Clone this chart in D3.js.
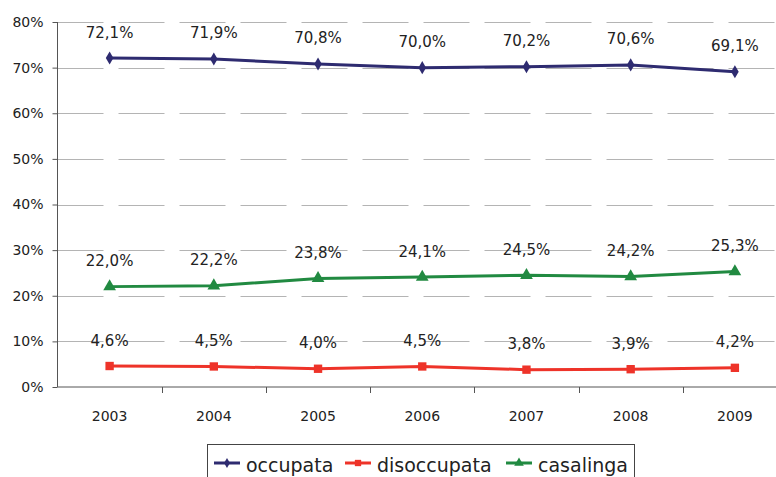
<!DOCTYPE html>
<html>
<head>
<meta charset="utf-8">
<script src="https://cdn.jsdelivr.net/npm/d3@7"></script>
<style>
  body { margin: 0; background: #fff; }
  svg { display: block; }
</style>
</head>
<body>
<div id="chart"></div>
<script>
// data
var years = ["2003", "2004", "2005", "2006", "2007", "2008", "2009"];
var occupata    = [72.1, 71.9, 70.8, 70.0, 70.2, 70.6, 69.1];
var disoccupata = [4.6, 4.5, 4.0, 4.5, 3.8, 3.9, 4.2];
var casalinga   = [22.0, 22.2, 23.8, 24.1, 24.5, 24.2, 25.3];
var yTicks = [0, 10, 20, 30, 40, 50, 60, 70, 80];

var series = [
  {name: "occupata", values: occupata, color: "#2e2b70", symbol: d3.symbolDiamond},
  {name: "disoccupata", values: disoccupata, color: "#ee3329", symbol: d3.symbolSquare},
  {name: "casalinga", values: casalinga, color: "#218a41", symbol: d3.symbolTriangle}
];

var W = 776, H = 477;
var plot = {left: 57.5, top: 22, bottom: 387, right: 787};

var svg = d3.select("#chart")
  .append("svg")
  .attr("width", W)
  .attr("height", H);

var x = d3.scaleBand()
  .domain(years)
  .range([plot.left, plot.right])
  .paddingInner(0);

var y = d3.scaleLinear()
  .domain([0, 80])
  .range([plot.bottom, plot.top]);

// gridlines (long dashes)
svg.append("g")
  .selectAll("line")
  .data(yTicks.filter(function(d) { return d > 0; }))
  .enter().append("line")
    .attr("x1", plot.left)
    .attr("x2", W)
    .attr("y1", function(d) { return Math.round(y(d)) + 0.5; })
    .attr("y2", function(d) { return Math.round(y(d)) + 0.5; })
    .style("stroke", "#b4b4b4")
    .style("stroke-width", 1)
    .style("stroke-dasharray", "46,15");

// y axis
var yAxis = svg.append("g")
  .attr("transform", "translate(" + plot.left + ",0)")
  .call(d3.axisLeft(y)
    .tickValues(yTicks)
    .tickSize(5)
    .tickPadding(9)
    .tickFormat(function(d) { return d + "%"; }));
yAxis.select(".domain").attr("d", "M0," + plot.top + "V" + plot.bottom).style("stroke", "#555");
yAxis.selectAll(".tick line").style("stroke", "#555");
yAxis.selectAll("text")
  .style("font-family", "DejaVu Sans, sans-serif")
  .style("font-size", "14px")
  .style("fill", "#222");

// x axis line with ticks at category boundaries
svg.append("line")
  .attr("x1", plot.left).attr("x2", W)
  .attr("y1", plot.bottom).attr("y2", plot.bottom)
  .style("stroke", "#555");
svg.append("g")
  .selectAll("line")
  .data(years)
  .enter().append("line")
    .attr("x1", function(d) { return Math.round(x(d) + x.bandwidth()) + 0.5; })
    .attr("x2", function(d) { return Math.round(x(d) + x.bandwidth()) + 0.5; })
    .attr("y1", plot.bottom)
    .attr("y2", plot.bottom + 6)
    .style("stroke", "#555");

var xAxis = svg.append("g")
  .attr("transform", "translate(0," + plot.bottom + ")")
  .call(d3.axisBottom(x).tickSize(0).tickPadding(24));
xAxis.select(".domain").remove();
xAxis.selectAll("text")
  .style("font-family", "DejaVu Sans, sans-serif")
  .style("font-size", "14px")
  .style("fill", "#222");

var cx = function(i) { return x(years[i]) + x.bandwidth() / 2; };

var line = d3.line()
  .x(function(d, i) { return cx(i); })
  .y(function(d) { return y(d); });

series.forEach(function(s) {
  var g = svg.append("g");
  g.append("path")
    .datum(s.values)
    .attr("d", line)
    .style("fill", "none")
    .style("stroke", s.color)
    .style("stroke-width", 3);

  g.selectAll("path.mark")
    .data(s.values)
    .enter().append("path")
      .attr("class", "mark")
      .attr("d", d3.symbol().type(s.symbol).size(s.symbol === d3.symbolDiamond ? 50 : 70))
      .attr("transform", function(d, i) { return "translate(" + cx(i) + "," + y(d) + ")"; })
      .style("fill", s.color);

  g.selectAll("text")
    .data(s.values)
    .enter().append("text")
      .attr("x", function(d, i) { return cx(i); })
      .attr("y", function(d) { return y(d) - 20.5; })
      .attr("text-anchor", "middle")
      .style("font-family", "DejaVu Sans, sans-serif")
      .style("font-size", "15px")
      .style("fill", "#222")
      .text(function(d) { return d.toFixed(1).replace(".", ",") + "%"; });
});

// legend (cut off at the bottom like the original)
var legend = svg.append("g");
legend.append("rect")
  .attr("x", 207.5).attr("y", 444.5)
  .attr("width", 427).attr("height", 50)
  .style("fill", "#fff")
  .style("stroke", "#444");

var legendPos = [214, 345, 506];
series.forEach(function(s, i) {
  var lx = legendPos[i];
  legend.append("line")
    .attr("x1", lx).attr("x2", lx + 26)
    .attr("y1", 463).attr("y2", 463)
    .style("stroke", s.color)
    .style("stroke-width", 3);
  legend.append("path")
    .attr("d", d3.symbol().type(s.symbol).size(s.symbol === d3.symbolDiamond ? 30 : 40))
    .attr("transform", "translate(" + (lx + 13) + ",463)")
    .style("fill", s.color);
  legend.append("text")
    .attr("x", lx + 32)
    .attr("y", 472)
    .style("font-family", "DejaVu Sans, sans-serif")
    .style("font-size", "19px")
    .style("fill", "#222")
    .text(s.name);
});
</script>
</body>
</html>
